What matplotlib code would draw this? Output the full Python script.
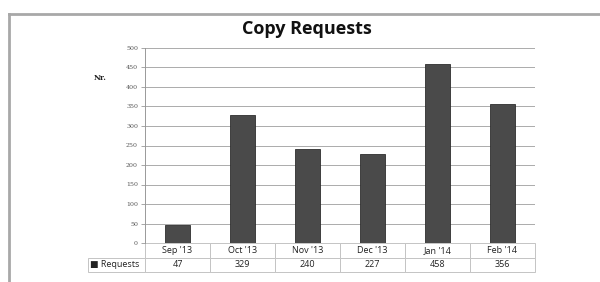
import matplotlib.pyplot as plt
from matplotlib.lines import Line2D

months = ["Sep '13", "Oct '13", "Nov '13", "Dec '13", "Jan '14", "Feb '14"]
requests = [47, 329, 240, 227, 458, 356]
y_ticks = list(range(0, 501, 50))

plt.rcParams['font.family'] = ['Open Sans', 'DejaVu Sans']

fig = plt.figure(figsize=(6, 2.82), dpi=100)
ax = fig.add_axes([145 / 600, 1 - 243 / 282, 390 / 600, 195 / 282])

x = range(len(months))
ax.bar(x, requests, width=0.37, color='#4a4a4a', edgecolor='#2e2e2e', linewidth=0.6, zorder=3)

ax.set_xlim(-0.5, len(months) - 0.5)
ax.set_ylim(0, 500)
ax.set_yticks(y_ticks)
ax.set_yticklabels([str(v) for v in y_ticks], fontsize=4.5, color='#555555', family='DejaVu Serif')
ax.set_xticks([])
ax.tick_params(axis='y', length=3, width=0.6, color='#999999', pad=2)
ax.grid(axis='y', color='#ababab', linewidth=0.7, zorder=0)
for side in ['top', 'right', 'bottom']:
    ax.spines[side].set_visible(False)
ax.spines['left'].set_color('#999999')
ax.spines['left'].set_linewidth(0.7)

# data table under the bars
lab_w = 57 / 390
cells = [[''] + months, ['\u25a0 Requests'] + [str(v) for v in requests]]
tbl = ax.table(cellText=cells, colWidths=[lab_w] + [1 / 6] * 6, cellLoc='center',
               bbox=[-lab_w, -29 / 195, 1 + lab_w, 29 / 195])
tbl.auto_set_font_size(False)
for (r, c), cell in tbl.get_celld().items():
    cell.set_edgecolor('#c4c4c4')
    cell.set_linewidth(0.7)
    cell.get_text().set_fontsize(6.5)
    cell.get_text().set_color('#222222')
    if r == 0 and c == 0:
        cell.visible_edges = ''
    if r == 1 and c == 0:
        cell.get_text().set_ha('left')
        cell.PAD = 0.04

fig.text(0.512, 0.898, 'Copy Requests', ha='center', va='center', fontsize=13, fontweight='bold',
         color='#111111')
fig.text(100 / 600, 1 - 78 / 282, 'Nr.', ha='center', va='center', fontsize=5.5, fontweight='bold',
         family='DejaVu Serif', color='#222222')

# frame lines of the screenshot
fig.add_artist(Line2D([9 / 600, 1], [1 - 14 / 282] * 2, color='#a8a8a8', linewidth=2))
fig.add_artist(Line2D([9 / 600] * 2, [0, 1 - 14 / 282], color='#a8a8a8', linewidth=2))

fig.savefig('out.png', dpi=100)
